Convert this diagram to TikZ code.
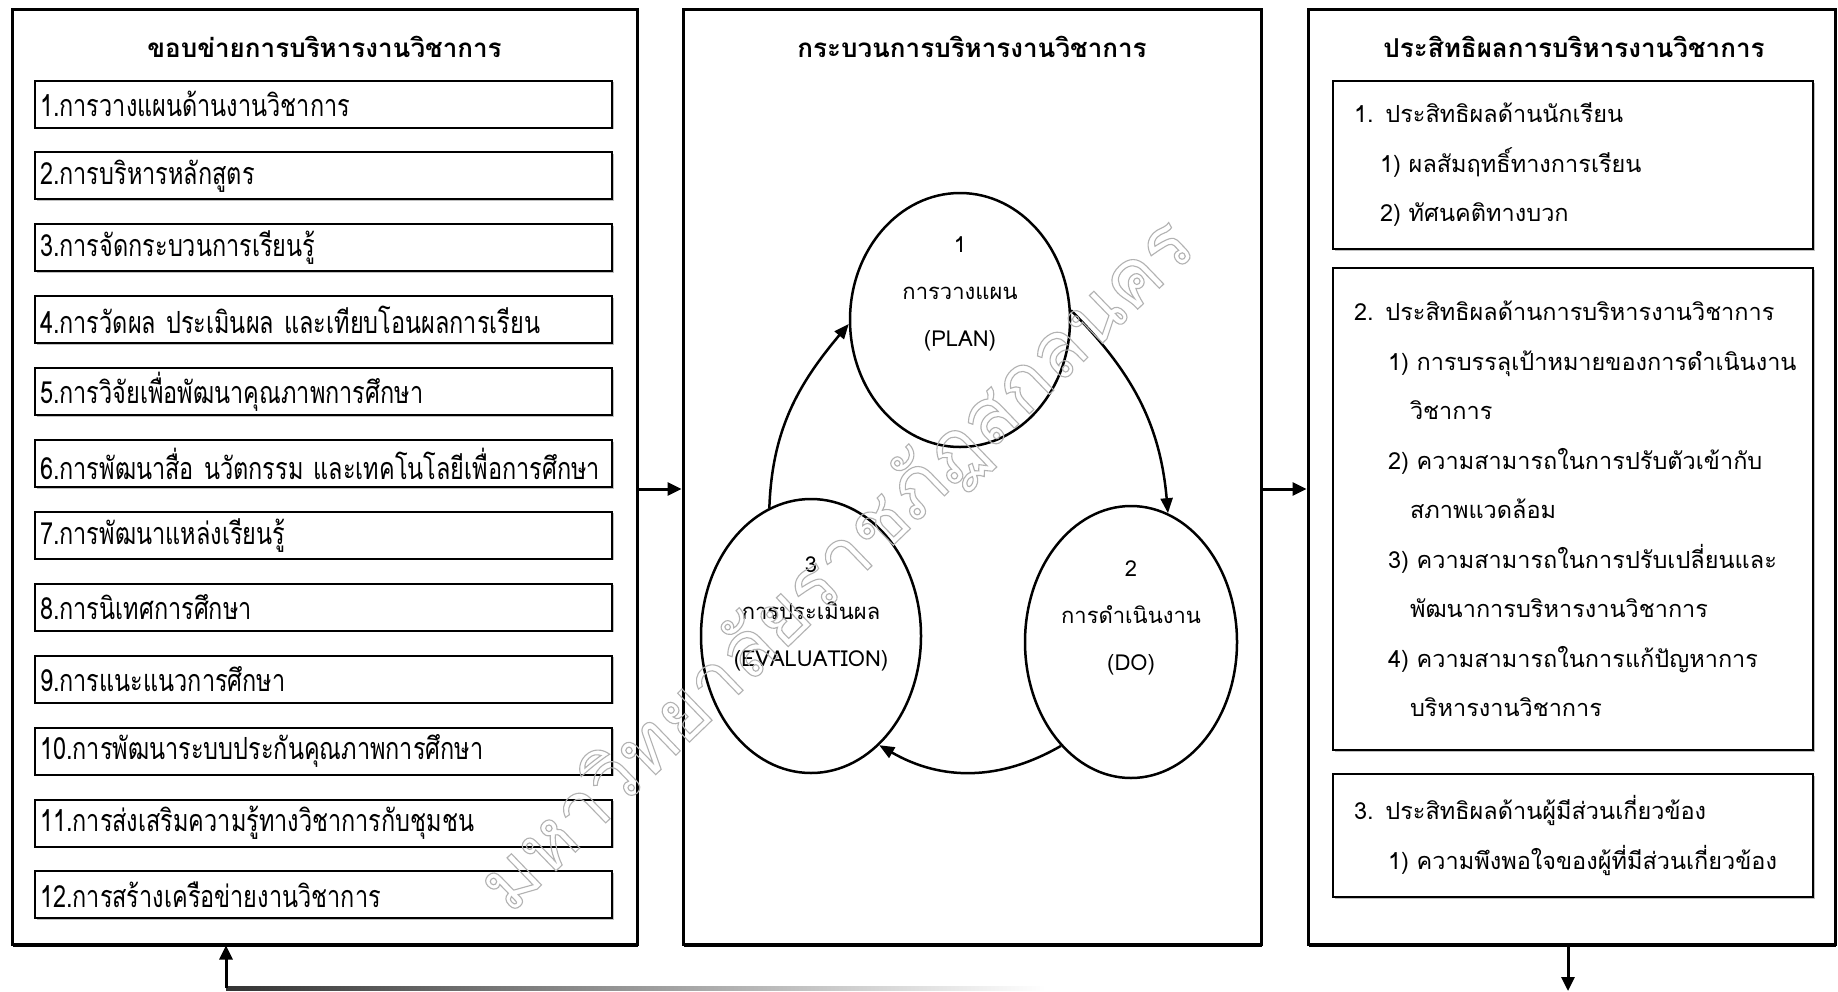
\documentclass[tikz,border=0pt]{standalone}
\usepackage{fontspec}
\newfontfamily\thai[Script=Thai]{Loma}
\newfontfamily\thainarrow[Script=Thai,FakeStretch=0.77]{Loma}
\usetikzlibrary{shapes.geometric,arrows.meta,shadows}
\newcommand\hollowtext[1]{\special{pdf:literal direct 1 Tr 1.1 w}#1\special{pdf:literal direct 0 Tr}}

\tikzset{
  panel/.style={draw, fill=white, line width=3pt, minimum height=935pt, inner sep=0pt,
    drop shadow={shadow xshift=0.5pt, shadow yshift=-2.5pt, opacity=1, fill=black}},
  paneltitle/.style={font=\thai\bfseries\fontsize{26}{28}\selectfont, inner sep=0pt},
  item/.style={draw, fill=white, line width=2pt, minimum height=47pt, text width=567pt,
    inner xsep=5pt, inner ysep=0pt, align=left, font=\thainarrow\fontsize{30.5}{33}\selectfont,
    drop shadow={shadow xshift=1.5pt, shadow yshift=-1.5pt, opacity=1, fill=black!25}},
  resbox/.style={draw, fill=white, line width=2pt, minimum width=480pt, text width=438pt,
    inner xsep=21pt, inner ysep=0pt, align=left, font=\thai\fontsize{23.5}{49.5}\selectfont,
    drop shadow={shadow xshift=1.5pt, shadow yshift=-1.5pt, opacity=1, fill=black!25}},
  phase/.style={draw, ellipse, line width=2.5pt, inner sep=0pt},
  phasetext/.style={align=center, inner sep=0pt, font=\thai\fontsize{22}{47}\selectfont},
  cyc/.style={line width=2.5pt, -{Triangle[length=15pt,width=12pt]}},
  arr/.style={line width=3pt, -{Triangle[length=14pt,width=13pt]}},
  wmark/.style={text=black!30, inner sep=0pt, font=\thai\fontsize{78}{90}\selectfont}
}

\begin{document}
\begin{tikzpicture}[x=1pt, y=-1pt]
  \useasboundingbox (0,0) rectangle (1838,991);

  % three panels
  \node[panel, minimum width=625pt] (lbox) at (324.5,476.5) {};
  \node[panel, minimum width=578pt] (cbox) at (972,476.5) {};
  \node[panel, minimum width=527pt] (rbox) at (1571.5,476.5) {};

  \node[paneltitle] (ltitle) at (324.5,47) {ขอบข่ายการบริหารงานวิชาการ};
  \node[paneltitle] (ctitle) at (972,47) {กระบวนการบริหารงานวิชาการ};
  \node[paneltitle] (rtitle) at (1574,47) {ประสิทธิผลการบริหารงานวิชาการ};

  % scope of academic administration
  \foreach \txt [count=\i] in {1.การวางแผนด้านงานวิชาการ, 2.การบริหารหลักสูตร,
      3.การจัดกระบวนการเรียนรู้, 4.การวัดผล ประเมินผล และเทียบโอนผลการเรียน,
      5.การวิจัยเพื่อพัฒนาคุณภาพการศึกษา, 6.การพัฒนาสื่อ นวัตกรรม และเทคโนโลยีเพื่อการศึกษา,
      7.การพัฒนาแหล่งเรียนรู้, 8.การนิเทศการศึกษา, 9.การแนะแนวการศึกษา,
      10.การพัฒนาระบบประกันคุณภาพการศึกษา, 11.การส่งเสริมความรู้ทางวิชาการกับชุมชน,
      12.การสร้างเครือข่ายงานวิชาการ} {
    \node[item] (item\i) at (323.5,{104+71.9*(\i-1)}) {\mbox{\txt}};
  }

  % PDCA style cycle
  \node[phase, minimum width=220pt, minimum height=254pt] (plan) at (960,320) {};
  \node[phase, minimum width=212pt, minimum height=272pt] (do) at (1131,642) {};
  \node[phase, minimum width=220pt, minimum height=274pt] (eval) at (811,636) {};
  \node[phasetext] (plantxt) at ([yshift=26pt]plan.center) {1\\การวางแผน\\(PLAN)};
  \node[phasetext] (dotxt) at ([yshift=24pt]do.center) {2\\การดำเนินงาน\\(DO)};
  \node[phasetext] (evaltxt) at ([yshift=22pt]eval.center) {3\\การประเมินผล\\(EVALUATION)};
  \draw[cyc] (plan.5) to[out=-45, in=95] (do.74);
  \draw[cyc] (do.236) to[out=210, in=-30] (eval.302);
  \draw[cyc] (eval.108) to[out=88, in=-130] (plan.182);

  % effectiveness
  \node[resbox, minimum height=168pt] (res1) at (1573,165) {1. ประสิทธิผลด้านนักเรียน\\
    \hspace*{26pt}1) ผลสัมฤทธิ์ทางการเรียน\\
    \hspace*{26pt}2) ทัศนคติทางบวก};
  \node[resbox, minimum height=482pt] (res2) at (1573,509) {2. ประสิทธิผลด้านการบริหารงานวิชาการ\\
    \hspace*{34pt}1) การบรรลุเป้าหมายของการดำเนินงาน\\
    \hspace*{56pt}วิชาการ\\
    \hspace*{34pt}2) ความสามารถในการปรับตัวเข้ากับ\\
    \hspace*{56pt}สภาพแวดล้อม\\
    \hspace*{34pt}3) ความสามารถในการปรับเปลี่ยนและ\\
    \hspace*{56pt}พัฒนาการบริหารงานวิชาการ\\
    \hspace*{34pt}4) ความสามารถในการแก้ปัญหาการ\\
    \hspace*{56pt}บริหารงานวิชาการ};
  \node[resbox, minimum height=123pt] (res3) at (1573,835.5) {3. ประสิทธิผลด้านผู้มีส่วนเกี่ยวข้อง\\
    \hspace*{34pt}1) ความพึงพอใจของผู้ที่มีส่วนเกี่ยวข้อง};

  % flow between panels
  \draw[arr] ([yshift=-12.5pt]lbox.east) -- ([yshift=-12.5pt]cbox.west);
  \draw[arr] ([yshift=-12.5pt]cbox.east) -- ([yshift=-12.5pt]rbox.west);
  \coordinate (out) at (1568,991);
  \coordinate (back) at (226,988);
  \draw[arr] ([xshift=-3.5pt]rbox.south) -- (out);
  \shade[left color=black!80, right color=white] (226,986) rectangle (1045,990);
  \draw[arr] (back) -- ([xshift=-98.5pt]lbox.south);

  % watermark
  \node[wmark, rotate=44] (wm) at (838,566) {\hollowtext{มหาวิทยาลัยราชภัฏสกลนคร}};
\end{tikzpicture}
\end{document}
